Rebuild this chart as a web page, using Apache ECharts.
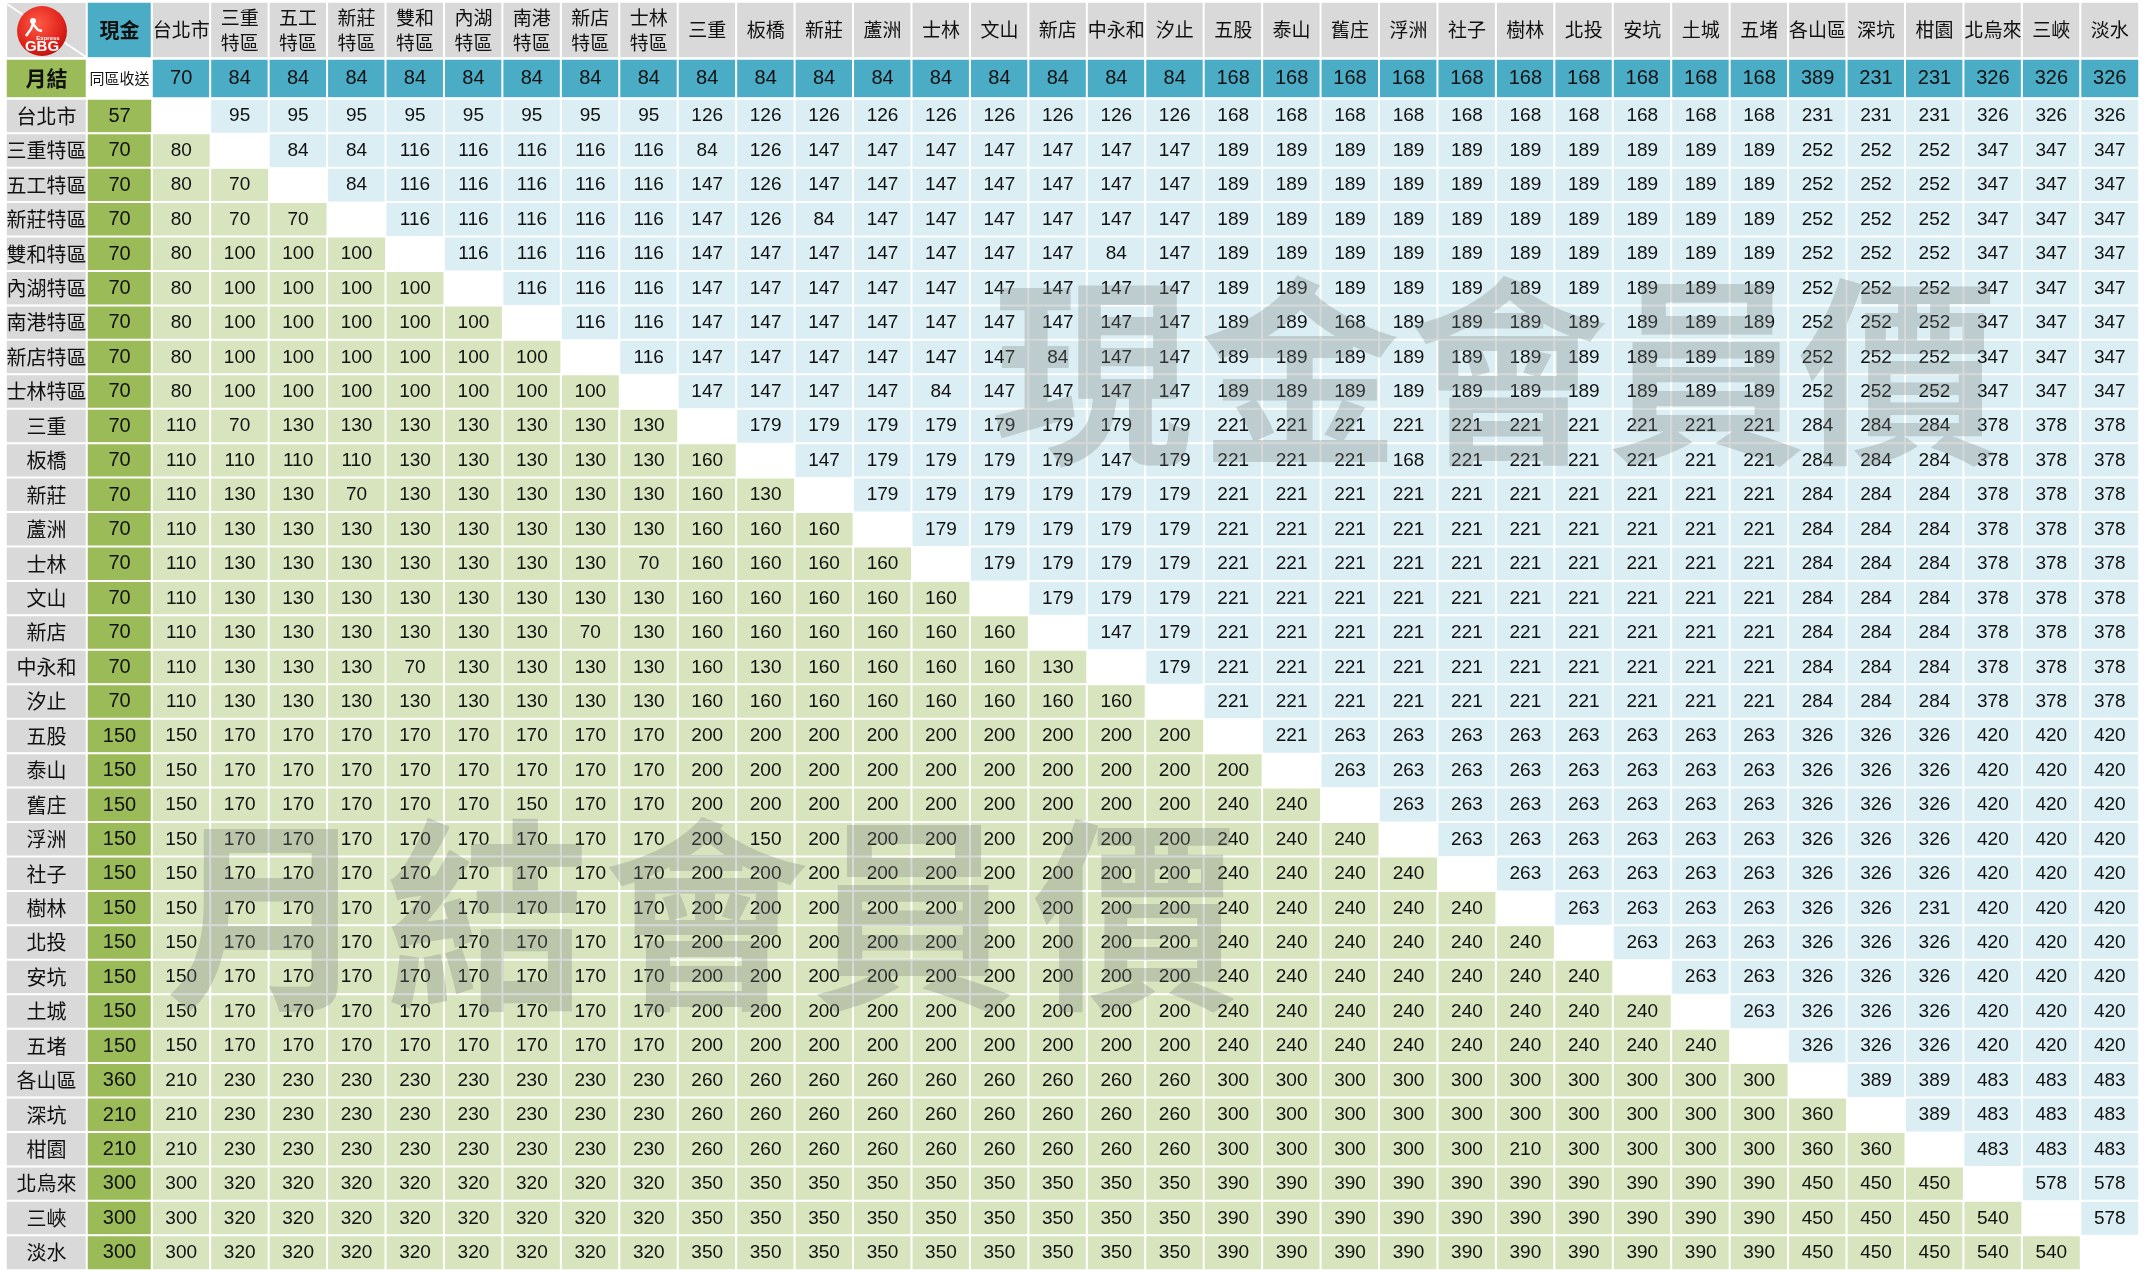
<!DOCTYPE html>
<html>
<head>
<meta charset="utf-8">
<style>
  html, body { margin: 0; padding: 0; background: #fff; }
  #chart { width: 2153px; height: 1270px; }
</style>
<script src="https://cdn.jsdelivr.net/npm/echarts@6/dist/echarts.min.js"></script>
</head>
<body>
<div id="chart"></div>
<script>
// zones, used as both row (from) and column (to) headers
const zones = ['台北市', '三重特區', '五工特區', '新莊特區', '雙和特區', '內湖特區', '南港特區', '新店特區', '士林特區',
  '三重', '板橋', '新莊', '蘆洲', '士林', '文山', '新店', '中永和', '汐止',
  '五股', '泰山', '舊庄', '浮洲', '社子', '樹林', '北投', '安坑', '土城', '五堵',
  '各山區', '深坑', '柑園', '北烏來', '三峽', '淡水'];

// same-zone price, 月結 row (per column)
const monthlySameZone = [70, 84, 84, 84, 84, 84, 84, 84, 84, 84, 84, 84, 84, 84, 84, 84, 84, 84,
  168, 168, 168, 168, 168, 168, 168, 168, 168, 168, 389, 231, 231, 326, 326, 326];

// same-zone price, 現金 column (per row)
const cashSameZone = [57, 70, 70, 70, 70, 70, 70, 70, 70, 70, 70, 70, 70, 70, 70, 70, 70, 70,
  150, 150, 150, 150, 150, 150, 150, 150, 150, 150, 360, 210, 210, 300, 300, 300];

// zone-to-zone prices, row = from, column = to (null on the diagonal)
const prices = [
  [null, 95, 95, 95, 95, 95, 95, 95, 95, 126, 126, 126, 126, 126, 126, 126, 126, 126, 168, 168, 168, 168, 168, 168, 168, 168, 168, 168, 231, 231, 231, 326, 326, 326],
  [80, null, 84, 84, 116, 116, 116, 116, 116, 84, 126, 147, 147, 147, 147, 147, 147, 147, 189, 189, 189, 189, 189, 189, 189, 189, 189, 189, 252, 252, 252, 347, 347, 347],
  [80, 70, null, 84, 116, 116, 116, 116, 116, 147, 126, 147, 147, 147, 147, 147, 147, 147, 189, 189, 189, 189, 189, 189, 189, 189, 189, 189, 252, 252, 252, 347, 347, 347],
  [80, 70, 70, null, 116, 116, 116, 116, 116, 147, 126, 84, 147, 147, 147, 147, 147, 147, 189, 189, 189, 189, 189, 189, 189, 189, 189, 189, 252, 252, 252, 347, 347, 347],
  [80, 100, 100, 100, null, 116, 116, 116, 116, 147, 147, 147, 147, 147, 147, 147, 84, 147, 189, 189, 189, 189, 189, 189, 189, 189, 189, 189, 252, 252, 252, 347, 347, 347],
  [80, 100, 100, 100, 100, null, 116, 116, 116, 147, 147, 147, 147, 147, 147, 147, 147, 147, 189, 189, 189, 189, 189, 189, 189, 189, 189, 189, 252, 252, 252, 347, 347, 347],
  [80, 100, 100, 100, 100, 100, null, 116, 116, 147, 147, 147, 147, 147, 147, 147, 147, 147, 189, 189, 168, 189, 189, 189, 189, 189, 189, 189, 252, 252, 252, 347, 347, 347],
  [80, 100, 100, 100, 100, 100, 100, null, 116, 147, 147, 147, 147, 147, 147, 84, 147, 147, 189, 189, 189, 189, 189, 189, 189, 189, 189, 189, 252, 252, 252, 347, 347, 347],
  [80, 100, 100, 100, 100, 100, 100, 100, null, 147, 147, 147, 147, 84, 147, 147, 147, 147, 189, 189, 189, 189, 189, 189, 189, 189, 189, 189, 252, 252, 252, 347, 347, 347],
  [110, 70, 130, 130, 130, 130, 130, 130, 130, null, 179, 179, 179, 179, 179, 179, 179, 179, 221, 221, 221, 221, 221, 221, 221, 221, 221, 221, 284, 284, 284, 378, 378, 378],
  [110, 110, 110, 110, 130, 130, 130, 130, 130, 160, null, 147, 179, 179, 179, 179, 147, 179, 221, 221, 221, 168, 221, 221, 221, 221, 221, 221, 284, 284, 284, 378, 378, 378],
  [110, 130, 130, 70, 130, 130, 130, 130, 130, 160, 130, null, 179, 179, 179, 179, 179, 179, 221, 221, 221, 221, 221, 221, 221, 221, 221, 221, 284, 284, 284, 378, 378, 378],
  [110, 130, 130, 130, 130, 130, 130, 130, 130, 160, 160, 160, null, 179, 179, 179, 179, 179, 221, 221, 221, 221, 221, 221, 221, 221, 221, 221, 284, 284, 284, 378, 378, 378],
  [110, 130, 130, 130, 130, 130, 130, 130, 70, 160, 160, 160, 160, null, 179, 179, 179, 179, 221, 221, 221, 221, 221, 221, 221, 221, 221, 221, 284, 284, 284, 378, 378, 378],
  [110, 130, 130, 130, 130, 130, 130, 130, 130, 160, 160, 160, 160, 160, null, 179, 179, 179, 221, 221, 221, 221, 221, 221, 221, 221, 221, 221, 284, 284, 284, 378, 378, 378],
  [110, 130, 130, 130, 130, 130, 130, 70, 130, 160, 160, 160, 160, 160, 160, null, 147, 179, 221, 221, 221, 221, 221, 221, 221, 221, 221, 221, 284, 284, 284, 378, 378, 378],
  [110, 130, 130, 130, 70, 130, 130, 130, 130, 160, 130, 160, 160, 160, 160, 130, null, 179, 221, 221, 221, 221, 221, 221, 221, 221, 221, 221, 284, 284, 284, 378, 378, 378],
  [110, 130, 130, 130, 130, 130, 130, 130, 130, 160, 160, 160, 160, 160, 160, 160, 160, null, 221, 221, 221, 221, 221, 221, 221, 221, 221, 221, 284, 284, 284, 378, 378, 378],
  [150, 170, 170, 170, 170, 170, 170, 170, 170, 200, 200, 200, 200, 200, 200, 200, 200, 200, null, 221, 263, 263, 263, 263, 263, 263, 263, 263, 326, 326, 326, 420, 420, 420],
  [150, 170, 170, 170, 170, 170, 170, 170, 170, 200, 200, 200, 200, 200, 200, 200, 200, 200, 200, null, 263, 263, 263, 263, 263, 263, 263, 263, 326, 326, 326, 420, 420, 420],
  [150, 170, 170, 170, 170, 170, 150, 170, 170, 200, 200, 200, 200, 200, 200, 200, 200, 200, 240, 240, null, 263, 263, 263, 263, 263, 263, 263, 326, 326, 326, 420, 420, 420],
  [150, 170, 170, 170, 170, 170, 170, 170, 170, 200, 150, 200, 200, 200, 200, 200, 200, 200, 240, 240, 240, null, 263, 263, 263, 263, 263, 263, 326, 326, 326, 420, 420, 420],
  [150, 170, 170, 170, 170, 170, 170, 170, 170, 200, 200, 200, 200, 200, 200, 200, 200, 200, 240, 240, 240, 240, null, 263, 263, 263, 263, 263, 326, 326, 326, 420, 420, 420],
  [150, 170, 170, 170, 170, 170, 170, 170, 170, 200, 200, 200, 200, 200, 200, 200, 200, 200, 240, 240, 240, 240, 240, null, 263, 263, 263, 263, 326, 326, 231, 420, 420, 420],
  [150, 170, 170, 170, 170, 170, 170, 170, 170, 200, 200, 200, 200, 200, 200, 200, 200, 200, 240, 240, 240, 240, 240, 240, null, 263, 263, 263, 326, 326, 326, 420, 420, 420],
  [150, 170, 170, 170, 170, 170, 170, 170, 170, 200, 200, 200, 200, 200, 200, 200, 200, 200, 240, 240, 240, 240, 240, 240, 240, null, 263, 263, 326, 326, 326, 420, 420, 420],
  [150, 170, 170, 170, 170, 170, 170, 170, 170, 200, 200, 200, 200, 200, 200, 200, 200, 200, 240, 240, 240, 240, 240, 240, 240, 240, null, 263, 326, 326, 326, 420, 420, 420],
  [150, 170, 170, 170, 170, 170, 170, 170, 170, 200, 200, 200, 200, 200, 200, 200, 200, 200, 240, 240, 240, 240, 240, 240, 240, 240, 240, null, 326, 326, 326, 420, 420, 420],
  [210, 230, 230, 230, 230, 230, 230, 230, 230, 260, 260, 260, 260, 260, 260, 260, 260, 260, 300, 300, 300, 300, 300, 300, 300, 300, 300, 300, null, 389, 389, 483, 483, 483],
  [210, 230, 230, 230, 230, 230, 230, 230, 230, 260, 260, 260, 260, 260, 260, 260, 260, 260, 300, 300, 300, 300, 300, 300, 300, 300, 300, 300, 360, null, 389, 483, 483, 483],
  [210, 230, 230, 230, 230, 230, 230, 230, 230, 260, 260, 260, 260, 260, 260, 260, 260, 260, 300, 300, 300, 300, 300, 210, 300, 300, 300, 300, 360, 360, null, 483, 483, 483],
  [300, 320, 320, 320, 320, 320, 320, 320, 320, 350, 350, 350, 350, 350, 350, 350, 350, 350, 390, 390, 390, 390, 390, 390, 390, 390, 390, 390, 450, 450, 450, null, 578, 578],
  [300, 320, 320, 320, 320, 320, 320, 320, 320, 350, 350, 350, 350, 350, 350, 350, 350, 350, 390, 390, 390, 390, 390, 390, 390, 390, 390, 390, 450, 450, 450, 540, null, 578],
  [300, 320, 320, 320, 320, 320, 320, 320, 320, 350, 350, 350, 350, 350, 350, 350, 350, 350, 390, 390, 390, 390, 390, 390, 390, 390, 390, 390, 450, 450, 450, 540, 540, null]
];

const cashWatermark = '現金會員價';
const monthlyWatermark = '月結會員價';

// cell kinds -> colours (mapped by visualMap on dimension 3)
const KIND = { head: 0, teal: 1, green: 2, lower: 3, upper: 4, blank: 5 };
const kindColors = ['#d9d9d9', '#4bacc6', '#9bbb59', '#d7e4bd', '#daeef3', '#ffffff'];

const NUM_FONT = '"Liberation Sans", Arial, sans-serif';
const CJK_FONT = '"Noto Sans CJK TC", "Noto Sans", sans-serif';

// layout bands [start, size] in px
const colBands = { label: [6, 81], cash: [87, 65], data: [152, 1987] };
const rowBands = { head: [2, 56], month: [59, 39], body: [99, 1173] };

const grids = [], xAxes = [], yAxes = [], series = [];

function addBlock(colBand, rowBand, xCats, yCats, items, label) {
  const i = grids.length;
  grids.push({ left: colBand[0], width: colBand[1], top: rowBand[0], height: rowBand[1] });
  xAxes.push({ type: 'category', gridIndex: i, data: xCats, show: false });
  yAxes.push({ type: 'category', gridIndex: i, data: yCats, inverse: true, show: false });
  series.push({
    type: 'heatmap',
    xAxisIndex: i,
    yAxisIndex: i,
    data: items.map(d => [d.x, d.y, d.v, d.kind]),
    itemStyle: { borderColor: '#fff', borderWidth: 2 },
    label: Object.assign({
      show: true,
      color: '#111',
      formatter: p => items[p.dataIndex].text
    }, label),
    emphasis: { disabled: true },
    silent: true
  });
}

function headerText(name) {
  return name.length === 4 && name.endsWith('特區') ? name.slice(0, 2) + '\n' + name.slice(2) : name;
}

// top header row: 現金 + zone names
addBlock(colBands.cash, rowBands.head, ['現金'], ['h'],
  [{ x: 0, y: 0, v: 0, kind: KIND.teal, text: '現金' }],
  { fontFamily: CJK_FONT, fontSize: 20, fontWeight: 'bold' });
addBlock(colBands.data, rowBands.head, zones, ['h'],
  zones.map((z, i) => ({ x: i, y: 0, v: 0, kind: KIND.head, text: headerText(z) })),
  { fontFamily: CJK_FONT, fontSize: 19, lineHeight: 25 });

// 月結 row
addBlock(colBands.label, rowBands.month, ['l'], ['月結'],
  [{ x: 0, y: 0, v: 0, kind: KIND.green, text: '月結' }],
  { fontFamily: CJK_FONT, fontSize: 21, fontWeight: 'bold' });
addBlock(colBands.cash, rowBands.month, ['現金'], ['月結'],
  [{ x: 0, y: 0, v: 0, kind: KIND.blank, text: '同區收送' }],
  { fontFamily: CJK_FONT, fontSize: 15 });
addBlock(colBands.data, rowBands.month, zones, ['月結'],
  monthlySameZone.map((v, i) => ({ x: i, y: 0, v, kind: KIND.teal, text: String(v) })),
  { fontFamily: NUM_FONT, fontSize: 20 });

// body: row labels, 現金 column, price matrix
addBlock(colBands.label, rowBands.body, ['l'], zones,
  zones.map((z, i) => ({ x: 0, y: i, v: 0, kind: KIND.head, text: z })),
  { fontFamily: CJK_FONT, fontSize: 20 });
addBlock(colBands.cash, rowBands.body, ['現金'], zones,
  cashSameZone.map((v, i) => ({ x: 0, y: i, v, kind: KIND.green, text: String(v) })),
  { fontFamily: NUM_FONT, fontSize: 20 });

const cells = [];
prices.forEach((row, r) => {
  row.forEach((v, c) => {
    if (v == null) return;
    cells.push({ x: c, y: r, v, kind: r < c ? KIND.upper : KIND.lower, text: String(v) });
  });
});
addBlock(colBands.data, rowBands.body, zones, zones, cells, { fontFamily: NUM_FONT, fontSize: 19 });

// watermarks (decoration)
function watermark(textStr, centersX, centerY, size) {
  return textStr.split('').map((ch, i) => ({
    type: 'text',
    z: 100,
    silent: true,
    style: {
      text: ch,
      x: centersX[i],
      y: centerY,
      textAlign: 'center',
      textVerticalAlign: 'middle',
      font: 'bold ' + size + 'px ' + CJK_FONT,
      fill: 'rgba(120,125,125,0.30)'
    }
  }));
}

const logo = [
  { type: 'rect', shape: { x: 7, y: 3, width: 79, height: 54 }, style: { fill: '#d9d9d9' } },
  { type: 'line', shape: { x1: 7, y1: 4, x2: 86, y2: 57 }, style: { stroke: '#fff', lineWidth: 2 } },
  {
    type: 'circle', shape: { cx: 42, cy: 31, r: 25 },
    style: {
      fill: {
        type: 'radial', x: 0.42, y: 0.35, r: 0.7,
        colorStops: [{ offset: 0, color: '#ff5a45' }, { offset: 0.7, color: '#e0231b' }, { offset: 1, color: '#b8100c' }]
      }
    }
  },
  { type: 'text', style: { text: 'Express', x: 48, y: 38, textAlign: 'center', textVerticalAlign: 'middle', font: 'bold 6px ' + NUM_FONT, fill: '#fff' } },
  { type: 'text', style: { text: 'GBG', x: 42, y: 47, textAlign: 'center', textVerticalAlign: 'middle', font: 'bold 15px ' + NUM_FONT, fill: '#fff' } },
  { type: 'circle', shape: { cx: 33, cy: 21, r: 3 }, style: { fill: '#fff' } },
  { type: 'polyline', shape: { points: [[26, 36], [31, 29], [33, 24], [38, 30], [42, 31]] }, style: { stroke: '#fff', lineWidth: 2.5, fill: null } }
];

const chart = echarts.init(document.getElementById('chart'), null, { renderer: 'canvas' });
chart.setOption({
  animation: false,
  backgroundColor: '#ffffff',
  grid: grids,
  xAxis: xAxes,
  yAxis: yAxes,
  visualMap: {
    type: 'piecewise',
    show: false,
    dimension: 3,
    seriesIndex: series.map((_, i) => i),
    pieces: kindColors.map((color, k) => ({ value: k, color }))
  },
  series,
  graphic: logo
    .concat(watermark(cashWatermark, [1092, 1300, 1508, 1706, 1898], 372, 200))
    .concat(watermark(monthlyWatermark, [268, 488, 706, 913, 1135], 915, 205))
});
</script>
</body>
</html>
